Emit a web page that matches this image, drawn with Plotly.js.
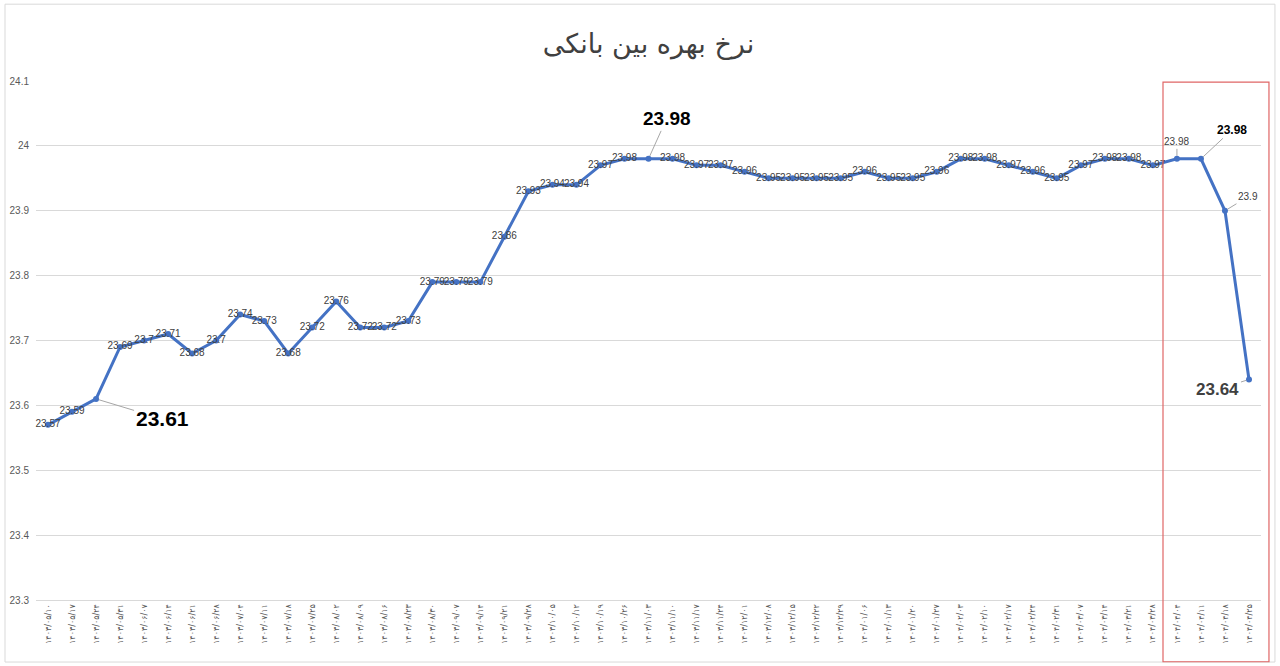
<!DOCTYPE html>
<html>
<head>
<meta charset="utf-8">
<script src="https://cdn.plot.ly/plotly-3.0.1.min.js"></script>
<style>html,body{margin:0;padding:0;background:#fff;}#chart{width:1280px;height:666px;}</style>
</head>
<body>
<div id="chart"></div>
<script>
const chartTitle = "نرخ بهره بین بانکی";

const dates = [
  "۱۴۰۳/۰۵/۱۰","۱۴۰۳/۰۵/۱۷","۱۴۰۳/۰۵/۲۴","۱۴۰۳/۰۵/۳۱","۱۴۰۳/۰۶/۰۷","۱۴۰۳/۰۶/۱۴","۱۴۰۳/۰۶/۲۱","۱۴۰۳/۰۶/۲۸",
  "۱۴۰۳/۰۷/۰۴","۱۴۰۳/۰۷/۱۱","۱۴۰۳/۰۷/۱۸","۱۴۰۳/۰۷/۲۵","۱۴۰۳/۰۸/۰۲","۱۴۰۳/۰۸/۰۹","۱۴۰۳/۰۸/۱۶","۱۴۰۳/۰۸/۲۳",
  "۱۴۰۳/۰۸/۳۰","۱۴۰۳/۰۹/۰۷","۱۴۰۳/۰۹/۱۴","۱۴۰۳/۰۹/۲۱","۱۴۰۳/۰۹/۲۸","۱۴۰۳/۱۰/۰۵","۱۴۰۳/۱۰/۱۲","۱۴۰۳/۱۰/۱۹",
  "۱۴۰۳/۱۰/۲۶","۱۴۰۳/۱۱/۰۳","۱۴۰۳/۱۱/۱۰","۱۴۰۳/۱۱/۱۷","۱۴۰۳/۱۱/۲۴","۱۴۰۳/۱۲/۰۱","۱۴۰۳/۱۲/۰۸","۱۴۰۳/۱۲/۱۵",
  "۱۴۰۳/۱۲/۲۲","۱۴۰۳/۱۲/۲۹","۱۴۰۴/۰۱/۰۶","۱۴۰۴/۰۱/۱۳","۱۴۰۴/۰۱/۲۰","۱۴۰۴/۰۱/۲۷","۱۴۰۴/۰۲/۰۳","۱۴۰۴/۰۲/۱۰",
  "۱۴۰۴/۰۲/۱۷","۱۴۰۴/۰۲/۲۴","۱۴۰۴/۰۲/۳۱","۱۴۰۴/۰۳/۰۷","۱۴۰۴/۰۳/۱۴","۱۴۰۴/۰۳/۲۱","۱۴۰۴/۰۳/۲۸","۱۴۰۴/۰۴/۰۴",
  "۱۴۰۴/۰۴/۱۱","۱۴۰۴/۰۴/۱۸","۱۴۰۴/۰۴/۲۵"
];

const rates = [
  23.57, 23.59, 23.61, 23.69, 23.70, 23.71, 23.68, 23.70,
  23.74, 23.73, 23.68, 23.72, 23.76, 23.72, 23.72, 23.73,
  23.79, 23.79, 23.79, 23.86, 23.93, 23.94, 23.94, 23.97,
  23.98, 23.98, 23.98, 23.97, 23.97, 23.96, 23.95, 23.95,
  23.95, 23.95, 23.96, 23.95, 23.95, 23.96, 23.98, 23.98,
  23.97, 23.96, 23.95, 23.97, 23.98, 23.98, 23.97, 23.98,
  23.98, 23.90, 23.64
];

const yTickVals = [23.3, 23.4, 23.5, 23.6, 23.7, 23.8, 23.9, 24.0, 24.1];
const yTickText = ["23.3","23.4","23.5","23.6","23.7","23.8","23.9","24","24.1"];

// indices whose labels are drawn as callouts instead of on the marker
const calloutIdx = [2, 25, 47, 48, 49, 50];
const calloutStyle = {
  2:  {ax: 66,  ay: 20,  size: 21, bold: true,  color: "#000000"},
  25: {ax: 18,  ay: -40, size: 19, bold: true,  color: "#000000"},
  47: {ax: 0,   ay: -17, size: 10, bold: false, color: "#404040"},
  48: {ax: 31,  ay: -29, size: 12, bold: true,  color: "#000000"},
  49: {ax: 23,  ay: -14, size: 10, bold: false, color: "#404040"},
  50: {ax: -31, ay: 10,  size: 17, bold: true,  color: "#404040"}
};

const fmt = v => String(Math.round(v * 100) / 100);
const labels = rates.map((v, i) => calloutIdx.includes(i) ? "" : fmt(v));

const trace = {
  x: dates, y: rates, type: "scatter", mode: "lines+markers+text",
  line: {color: "#4472C4", width: 3},
  marker: {color: "#4472C4", size: 6},
  text: labels, textposition: "middle center",
  textfont: {family: "Liberation Sans, Arial", size: 10, color: "#404040"},
  hoverinfo: "skip", cliponaxis: false
};

const annotations = calloutIdx.map(i => {
  const s = calloutStyle[i];
  const t = fmt(rates[i]);
  return {
    x: dates[i], y: rates[i], xref: "x", yref: "y",
    text: s.bold ? "<b>" + t + "</b>" : t,
    showarrow: true, arrowhead: 0, arrowwidth: 1, arrowcolor: "#a6a6a6",
    ax: s.ax, ay: s.ay, standoff: 3,
    font: {family: "Liberation Sans, Arial", size: s.size, color: s.color}
  };
});

const shapes = [
  {type: "rect", xref: "paper", yref: "paper", x0: -0.0253, x1: 1.0114, y0: -0.1195, y1: 1.148,
   line: {color: "#d9d9d9", width: 1}, fillcolor: "rgba(0,0,0,0)", layer: "below"},
  {type: "rect", xref: "paper", yref: "paper", x0: 0.920, x1: 1.0065, y0: -0.119, y1: 0.998,
   line: {color: "#e06666", width: 1.2}, fillcolor: "rgba(0,0,0,0)"}
];

const layout = {
  width: 1280, height: 666,
  margin: {l: 36, r: 19, t: 81, b: 66},
  paper_bgcolor: "#ffffff", plot_bgcolor: "#ffffff",
  showlegend: false,
  title: {text: chartTitle, x: 0.5, xref: "paper", xanchor: "center", y: 0.935, yanchor: "middle",
          font: {family: "DejaVu Sans", size: 27, color: "#404040"}},
  xaxis: {
    type: "category", range: [-0.5, dates.length - 0.5], autorange: false,
    tickangle: -90, showgrid: false, zeroline: false,
    showline: true, linecolor: "#d9d9d9", linewidth: 1, ticks: "",
    tickfont: {family: "DejaVu Sans", size: 8, color: "#595959"}
  },
  yaxis: {
    range: [23.3, 24.1], tickvals: yTickVals, ticktext: yTickText,
    showgrid: true, gridcolor: "#d9d9d9", gridwidth: 1, zeroline: false, showline: false,
    ticks: "", ticklabelstandoff: 6,
    tickfont: {family: "Liberation Sans, Arial", size: 10, color: "#595959"}
  },
  annotations: annotations,
  shapes: shapes
};

Plotly.newPlot("chart", [trace], layout, {displayModeBar: false, staticPlot: true});
</script>
</body>
</html>
